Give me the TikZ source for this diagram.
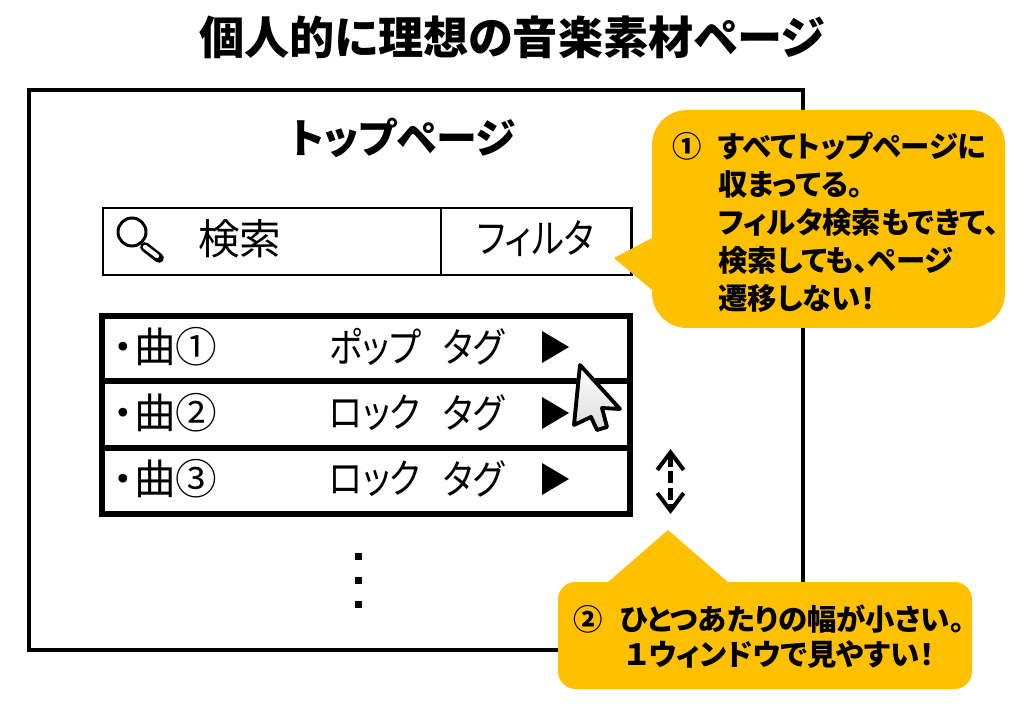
\documentclass[tikz,border=0pt]{standalone}
\usepackage{fontspec}
\setmainfont{Noto Sans CJK JP}[RawFeature=+palt]
\newfontfamily\narrowjp{Noto Sans CJK JP}[RawFeature=+palt,FakeStretch=0.85]
\usetikzlibrary{arrows.meta}
\definecolor{calloutcol}{HTML}{FFC000}
\tikzset{
    rowtext/.style={anchor=west,font=\fontsize{23.7}{24}\selectfont,inner sep=0pt},
    narrowtext/.style={anchor=west,font=\fontsize{23}{23}\selectfont\narrowjp,inner sep=0pt},
    playmark/.style={fill=black},
    calltext/.style={anchor=west,inner sep=0pt,font=\fontsize{16.7}{21.7}\selectfont\bfseries},
    barb/.tip={Straight Barb[length=10pt,width=15pt,line width=2.3pt]},
}
\begin{document}
\begin{tikzpicture}[x=0.02cm,y=-0.02cm]
    \useasboundingbox (0,0) rectangle (1024,709);
    \node (title) at (512,37) {\fontsize{25.7}{25.7}\selectfont\bfseries 個人的に理想の音楽素材ページ};
    \draw[line width=2.3pt] (29,90) rectangle (803,650);
    \node (top) at (403,138) {\fontsize{23.3}{23.3}\selectfont\bfseries トップページ};
    % search bar
    \draw[line width=1.7pt] (103,208) rectangle (631,275);
    \draw[line width=1.7pt] (441,208) -- (441,275);
    \draw[line width=1.7pt] (132,232) circle (14);
    \draw[line width=5.5pt,line cap=round] (145,247) -- (159,258);
    \draw[line width=2.4pt,white,line cap=round] (145,247) -- (157,256);
    \node[rowtext] (search) at (198,239) {検索};
    \node[narrowtext] (filter) at (477,239) {フィルタ};
    % list
    \draw[line width=2.9pt] (102,316) rectangle (630,514);
    \draw[line width=2.9pt] (102,381) -- (630,381);
    \draw[line width=2.9pt] (102,448) -- (630,448);
    \foreach \i/\n/\g/\y in {1/①/ポップ/347,2/②/ロック/413,3/③/ロック/479}
    {
        \node[rowtext] (song\i) at (113,\y) {・曲\n};
        \node[narrowtext] (genre\i) at (329,\y) {\g};
        \node[narrowtext] (tag\i) at (443,\y) {タグ};
        \fill[playmark] (542,\y-16) -- (569,\y) -- (542,\y+16) -- cycle;
    }
    \foreach \y in {556,580,604}
    {
        \fill (354.5,\y-3.5) rectangle (361.5,\y+3.5);
    }
    % cursor
    \draw[line width=2.2pt,line join=round,top color=white,bottom color=black!14]
        (580,365) -- (620,409) -- (602,408) -- (607,427) -- (597,430) -- (591,417) -- (574,425) -- cycle;
    % updown arrow
    \coordinate (arrowtop) at (670.5,449);
    \coordinate (arrowbot) at (670.5,514);
    \draw[line width=2.3pt,dash pattern=on 7pt off 2.5pt,barb-barb] (arrowtop) -- (arrowbot);
    % callouts
    \fill[calloutcol] (652,238) -- (614,258) -- (652,290) -- cycle;
    \fill[calloutcol,rounded corners=20pt] (652,110) rectangle (1005,328);
    \node[calltext] (num1) at (672,146) {①};
    \node[calltext] (text1a) at (718,146) {すべてトップページに};
    \node[calltext] (text1b) at (718,184) {収まってる。};
    \node[calltext] (text1c) at (718,222) {フィルタ検索もできて、};
    \node[calltext] (text1d) at (718,260) {検索しても、ページ};
    \node[calltext] (text1e) at (718,298) {遷移しない！};
    \fill[calloutcol] (607,583) -- (668,530) -- (729,583) -- cycle;
    \fill[calloutcol,rounded corners=10pt] (558,582) rectangle (972,689);
    \node[calltext] (num2) at (573,619) {②};
    \node[calltext] (text2a) at (620,619) {ひとつあたりの幅が小さい。};
    \node[calltext] (text2b) at (626,655) {１ウィンドウで見やすい！};
\end{tikzpicture}
\end{document}
